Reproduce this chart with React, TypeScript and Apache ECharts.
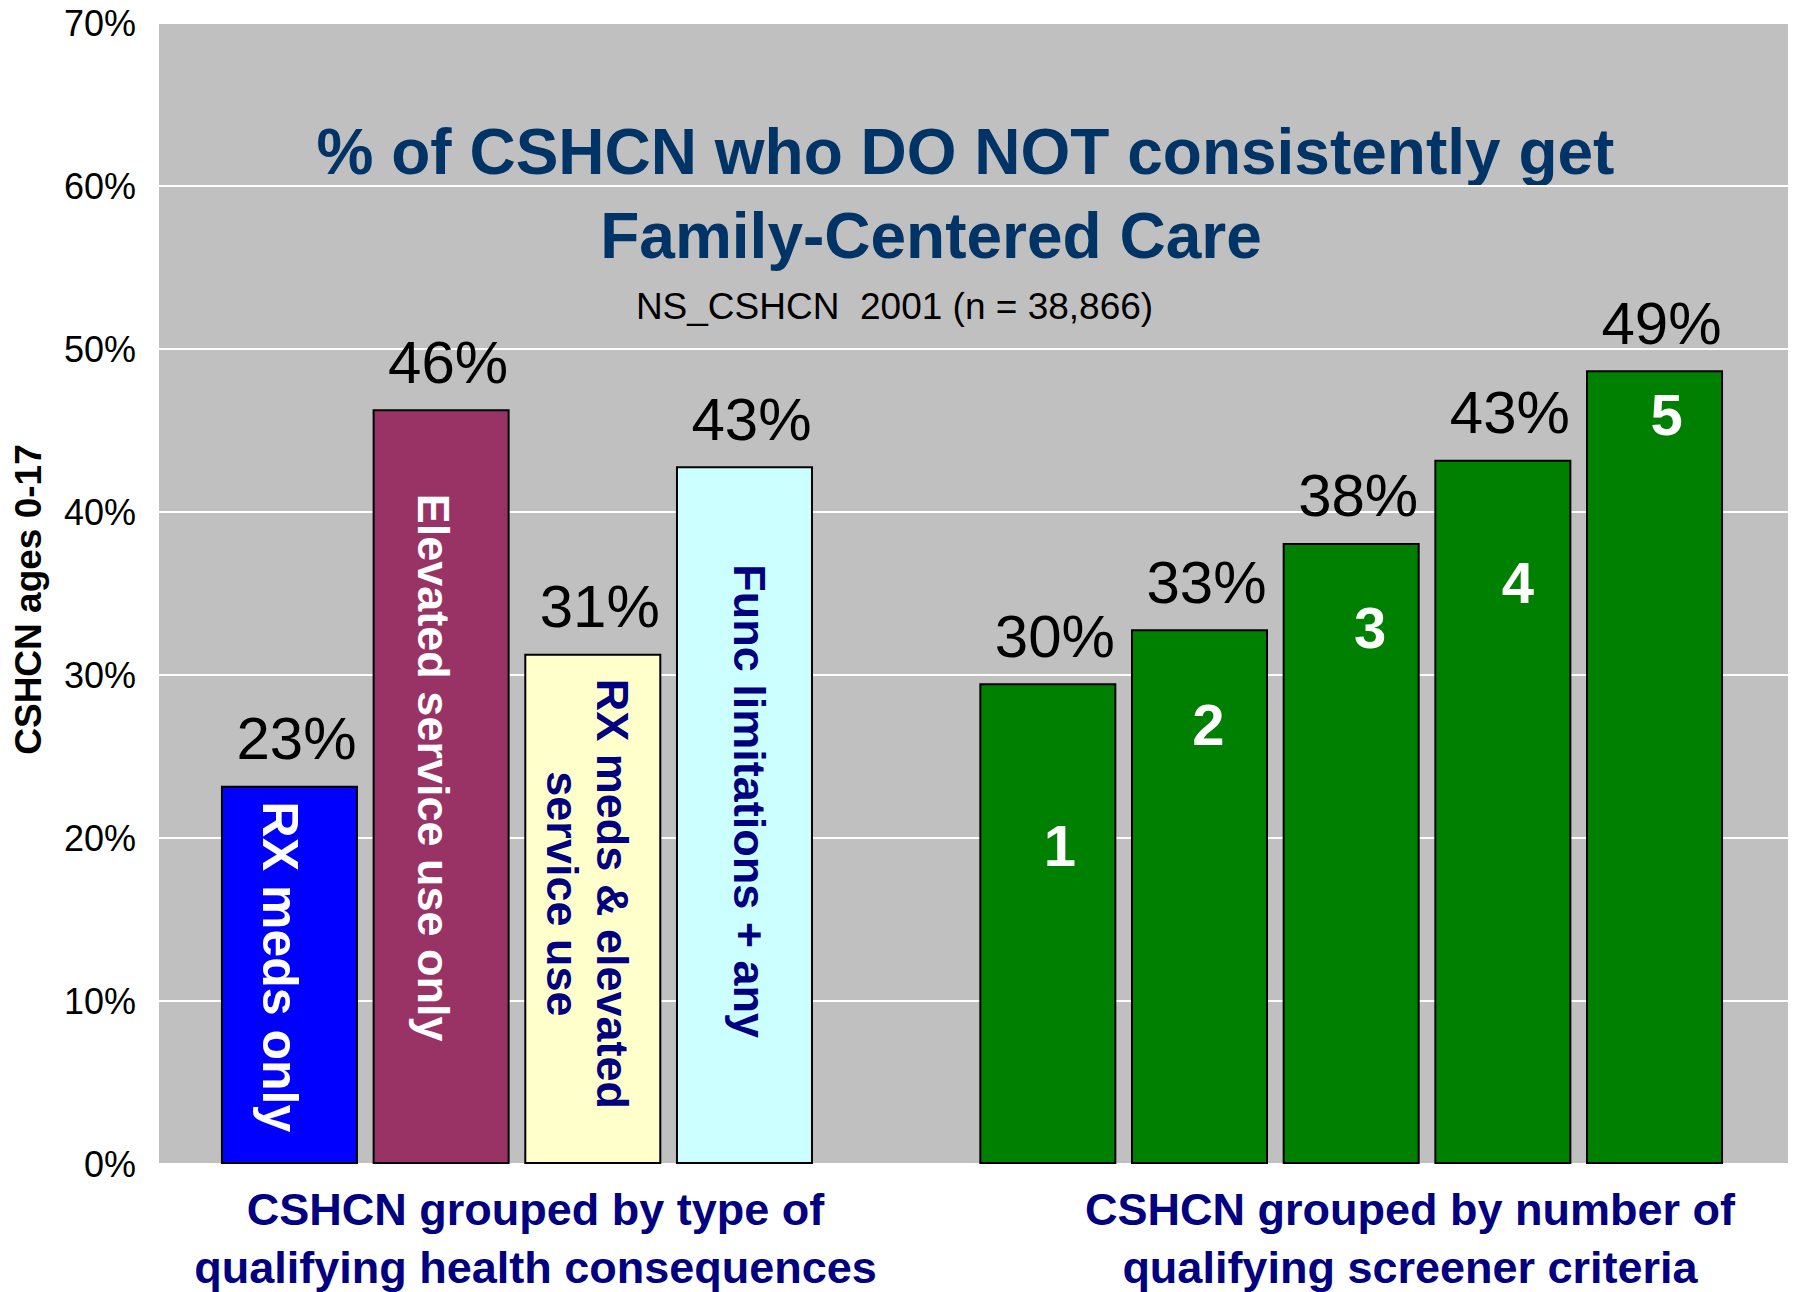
import React, { useEffect, useRef } from 'react';
import * as echarts from 'echarts';

// ---------- data ----------
const categories = [
  'RX meds only',
  'Elevated service use only',
  'RX meds & elevated\nservice use',
  'Func limitations + any',
  '',
  '1',
  '2',
  '3',
  '4',
  '5',
];
const values: (number | null)[] = [23.2, 46.3, 31.3, 42.8, null, 29.5, 32.8, 38.1, 43.2, 48.7];
const yMin = 0;
const yMax = 70;
const yStep = 10;
const titleLine1 = '% of CSHCN who DO NOT consistently get';
const titleLine2 = 'Family-Centered Care';
const subtitle = 'NS_CSHCN\u00a0 2001 (n = 38,866)';
const yAxisName = 'CSHCN ages 0-17';
const groupLabels = [
  'CSHCN grouped by type of\nqualifying health consequences',
  'CSHCN grouped by number of\nqualifying screener criteria',
];

// ---------- styles ----------
const barColors = ['#0000FF', '#993366', '#FFFFCC', '#CCFFFF', 'transparent', '#008000', '#008000', '#008000', '#008000', '#008000'];
// offsets of rotated labels are given in the label's own (rotated) frame
const innerLabelStyles: any[] = [
  { position: 'inside', rotate: -90, color: '#FFFFFF', fontSize: 50, lineHeight: 50, offset: [-8, 9] },
  { position: 'inside', rotate: -90, color: '#FFFFFF', fontSize: 45, lineHeight: 45, offset: [-19, 8] },
  { position: 'inside', rotate: -90, color: '#000080', fontSize: 45, lineHeight: 50, offset: [-15, 5] },
  { position: 'inside', rotate: -90, color: '#000080', fontSize: 45, lineHeight: 45, offset: [-14, -5] },
  null,
  { position: 'insideTop', distance: 0, color: '#FFFFFF', fontSize: 58, lineHeight: 58, offset: [12, 133] },
  { position: 'insideTop', distance: 0, color: '#FFFFFF', fontSize: 58, lineHeight: 58, offset: [9, 66] },
  { position: 'insideTop', distance: 0, color: '#FFFFFF', fontSize: 58, lineHeight: 58, offset: [19, 56] },
  { position: 'insideTop', distance: 0, color: '#FFFFFF', fontSize: 58, lineHeight: 58, offset: [15, 94] },
  { position: 'insideTop', distance: 0, color: '#FFFFFF', fontSize: 58, lineHeight: 58, offset: [12, 15] },
];

const FONT = "'Liberation Sans', Arial, Helvetica, sans-serif";

export default function App() {
  const ref = useRef<HTMLDivElement>(null);

  useEffect(() => {
    document.body.style.margin = '0';
    const chart = echarts.init(ref.current as HTMLDivElement, null, { renderer: 'svg' });

    const idx = values.map((v, i) => i).filter((i) => values[i] != null);

    const mainData = idx.map((i) => ({
      value: [i + 1, values[i] as number],
      itemStyle: { color: barColors[i] },
    }));

    const overlayData = idx.map((i) => ({
      value: [i + 1, values[i] as number],
      label: {
        show: true,
        fontFamily: FONT,
        fontWeight: 'bold',
        formatter: () => categories[i],
        ...innerLabelStyles[i],
      },
    }));

    const textEl = (x: number, y: number, text: string, extra: any) => ({
      type: 'text',
      x,
      y,
      style: {
        text,
        textAlign: 'center',
        textVerticalAlign: 'top',
        align: 'center',
        verticalAlign: 'top',
        fontFamily: FONT,
        ...extra,
      },
    });

    const option: any = {
      animation: false,
      textStyle: { fontFamily: FONT },
      grid: {
        left: 159,
        right: 6,
        top: 23,
        bottom: 128,
        show: true,
        backgroundColor: '#C0C0C0',
        borderWidth: 0,
        containLabel: false,
      },
      xAxis: {
        type: 'value',
        min: 0.14,
        max: 10.88,
        show: false,
        splitLine: { show: false },
      },
      yAxis: {
        type: 'value',
        min: yMin,
        max: yMax,
        interval: yStep,
        name: yAxisName,
        nameLocation: 'middle',
        nameGap: 112,
        nameTextStyle: {
          fontFamily: FONT,
          fontSize: 37,
          fontWeight: 'bold',
          color: '#000000',
          lineHeight: 37,
          padding: [0, 12, 0, 0],
        },
        axisLine: { show: false },
        axisTick: { show: false },
        axisLabel: {
          formatter: '{value}%',
          fontFamily: FONT,
          fontSize: 36,
          color: '#000000',
          margin: 23,
        },
        splitLine: { show: true, lineStyle: { color: '#FFFFFF', width: 2 } },
      },
      series: [
        {
          type: 'bar',
          data: mainData,
          barWidth: 137,
          barGap: '-100%',
          itemStyle: { borderColor: '#000000', borderWidth: 2 },
          label: {
            show: true,
            position: 'top',
            distance: 17,
            offset: [7, 0],
            fontFamily: FONT,
            fontSize: 60,
            lineHeight: 60,
            color: '#000000',
            formatter: (p: any) => Math.round(p.value[1]) + '%',
          },
          z: 2,
        },
        {
          type: 'bar',
          data: overlayData,
          barWidth: 137,
          barGap: '-100%',
          itemStyle: { color: 'rgba(0,0,0,0)', borderWidth: 0 },
          z: 3,
        },
      ],
      graphic: [
        textEl(965.5, 120, titleLine1, { fontSize: 64, fontWeight: 'bold', lineHeight: 64, fill: '#003366' }),
        textEl(931, 204, titleLine2, { fontSize: 64, fontWeight: 'bold', lineHeight: 64, fill: '#003366' }),
        textEl(894.5, 288, subtitle, { fontSize: 37, lineHeight: 37, fill: '#000000' }),
        textEl(535.5, 1181, groupLabels[0], { fontSize: 45, fontWeight: 'bold', lineHeight: 57.5, fill: '#000080' }),
        textEl(1410, 1181, groupLabels[1], { fontSize: 45, fontWeight: 'bold', lineHeight: 57.5, fill: '#000080' }),
      ],
    };

    chart.setOption(option);
    return () => chart.dispose();
  }, []);

  return <div ref={ref} style={{ width: 1794, height: 1292, overflow: 'hidden' }} />;
}
